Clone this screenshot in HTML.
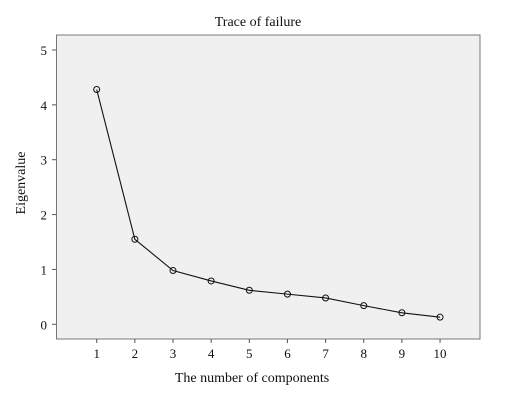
<!DOCTYPE html>
<html><head><meta charset="utf-8"><style>
body{margin:0;background:#fff;width:515px;height:404px;overflow:hidden}
text{font-family:"Liberation Serif",serif;fill:#111}
</style></head><body>
<svg id="c" width="515" height="404">
<text x="258" y="26" font-size="14" text-anchor="middle">Trace of failure</text>
<rect x="56.5" y="35" width="423.5" height="304" fill="#f0f0f0" stroke="#777" stroke-width="1"/>
<text x="252" y="382" font-size="14" text-anchor="middle">The number of components</text>
<text transform="translate(25,183) rotate(-90)" font-size="14" text-anchor="middle">Eigenvalue</text>
<g id="g"></g>
</svg>
<script>
const categories=[1,2,3,4,5,6,7,8,9,10];
const eigenvalues=[4.28,1.55,0.98,0.79,0.62,0.55,0.48,0.34,0.21,0.13];
const yTicks=[0,1,2,3,4,5];
const NS="http://www.w3.org/2000/svg";
const xs=v=>96.7+(v-1)*38.15;
const ys=v=>324.3-v*54.86;
const g=document.getElementById('g');
function mk(t,a){const e=document.createElementNS(NS,t);for(const k in a)e.setAttribute(k,a[k]);g.appendChild(e);return e;}
yTicks.forEach(t=>{
 const l=mk('line',{x1:52,x2:56.5,y1:ys(t),y2:ys(t),stroke:'#555'});
 
 
 const tx=mk('text',{x:47,y:ys(t)+5,'font-size':13,'text-anchor':'end'});tx.textContent=t;
 
 
});
categories.forEach(c=>{
 const l=mk('line',{x1:xs(c),x2:xs(c),y1:339,y2:343,stroke:'#555'});
 
 
 const tx=mk('text',{x:xs(c),y:358,'font-size':13,'text-anchor':'middle'});tx.textContent=c;
 
 
});
const pl=mk('polyline',{points:categories.map((c,i)=>xs(c)+','+ys(eigenvalues[i])).join(' '),fill:'none',stroke:'#111','stroke-width':1.1});


categories.forEach((c,i)=>{
 const p=mk('circle',{cx:xs(c),cy:ys(eigenvalues[i]),r:3,fill:'none',stroke:'#111','stroke-width':1});
 
 
});
</script>
</body></html>
